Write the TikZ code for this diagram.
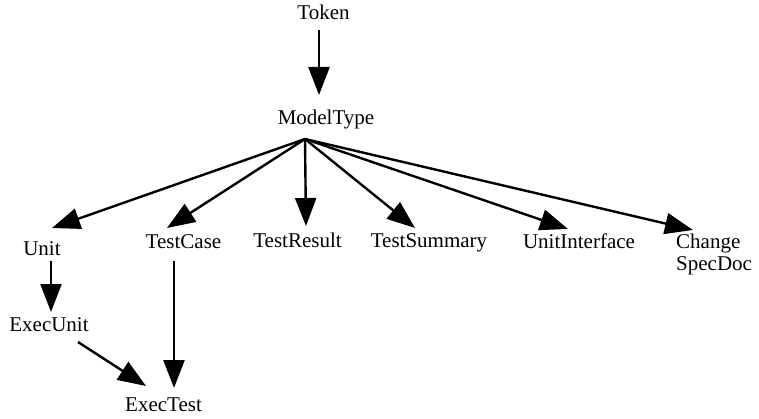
\documentclass[tikz,border=0pt]{standalone}
\usepackage{fontspec}
\setmainfont{Liberation Serif}
\usetikzlibrary{arrows.meta}
\begin{document}
\begin{tikzpicture}[x=1pt,y=1pt,
  lbl/.style={inner sep=0pt,anchor=base,font=\fontsize{21}{21}\selectfont},
  arr/.style={line width=2.4pt,-{Triangle[length=28pt,width=21pt]}}]
\useasboundingbox (0,0) rectangle (759,-419);
\node[lbl] (Token) at (323.5,-20) {Token};
\node[lbl] (MT) at (326,-125) {ModelType};
\node[lbl] (Unit) at (42,-256) {Unit};
\node[lbl] (TC) at (183.5,-249) {TestCase};
\node[lbl] (TR) at (297.5,-248) {TestResult};
\node[lbl] (TS) at (429,-248) {TestSummary};
\node[lbl] (UI) at (579,-249) {UnitInterface};
\node[lbl,anchor=base west] (CSD) at (676,-249) {\begin{tabular}[t]{@{}l@{}}Change\\SpecDoc\end{tabular}};
\node[lbl] (EU) at (49,-331.7) {ExecUnit};
\node[lbl] (ET) at (163.5,-411.7) {ExecTest};
\draw[arr] ([shift={(-4.5,-10)}]Token.base) -- ([shift={(-7,30)}]MT.base);
\draw[arr] ([shift={(-21,-14)}]MT.base) -- ([shift={(10,28)}]Unit.base);
\draw[arr] ([shift={(-21,-14)}]MT.base) -- ([shift={(-16.5,21)}]TC.base);
\draw[arr] ([shift={(-21,-14)}]MT.base) -- ([shift={(8.5,22)}]TR.base);
\draw[arr] ([shift={(-21,-14)}]MT.base) -- ([shift={(-14,20)}]TS.base);
\draw[arr] ([shift={(-21,-14)}]MT.base) -- ([shift={(-11,20)}]UI.base);
\draw[arr] ([shift={(-21,-14)}]MT.base) -- ([shift={(17,19)}]CSD.base west);
\draw[arr] ([shift={(9,-5)}]Unit.base) -- ([shift={(2,19.7)}]EU.base);
\draw[arr] ([shift={(-9.5,-12)}]TC.base) -- ([shift={(10.5,23.7)}]ET.base);
\draw[arr] ([shift={(29,-10.3)}]EU.base) -- ([shift={(-17.5,25.7)}]ET.base);
\end{tikzpicture}
\end{document}
